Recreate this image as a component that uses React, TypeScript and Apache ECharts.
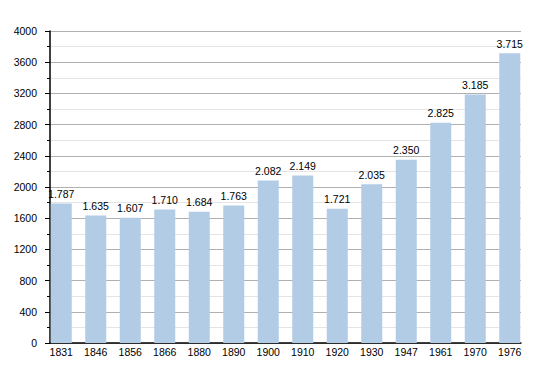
import React, { useEffect, useRef } from "react";
import * as echarts from "echarts";

const years = ["1831", "1846", "1856", "1866", "1880", "1890", "1900", "1910", "1920", "1930", "1947", "1961", "1970", "1976"];
const population = [1787, 1635, 1607, 1710, 1684, 1763, 2082, 2149, 1721, 2035, 2350, 2825, 3185, 3715];

const fmt = (v: number) => {
  const s = String(v);
  return s.length > 3 ? s.slice(0, s.length - 3) + "." + s.slice(s.length - 3) : s;
};

const FONT = "Liberation Sans, Arial, Helvetica, sans-serif";

export default function App() {
  const ref = useRef<HTMLDivElement>(null);
  useEffect(() => {
    const chart = echarts.init(ref.current!, null, { renderer: "svg" });
    chart.setOption({
      animation: false,
      backgroundColor: "#ffffff",
      grid: [
        { left: 50, right: 29, top: 31, bottom: 30 },
        { left: 44, right: 23, top: 31, bottom: 30 },
      ],
      xAxis: [
        {
          type: "value",
          gridIndex: 0,
          min: 0,
          max: 1,
          axisLine: { show: true, onZero: false, lineStyle: { color: "#000", width: 1.5 } },
          axisTick: { show: false },
          axisLabel: { show: false },
          splitLine: { show: false },
        },
        {
          type: "category",
          gridIndex: 1,
          data: years,
          axisLine: { show: false },
          axisTick: { show: false },
          axisLabel: { color: "#000", fontSize: 10.5, fontFamily: FONT, margin: 3 },
        },
      ],
      yAxis: [
        {
          type: "value",
          gridIndex: 0,
          min: 0,
          max: 4000,
          interval: 400,
          axisLine: { show: true, lineStyle: { color: "#000", width: 1.5 } },
          axisTick: { show: true, length: 5, lineStyle: { color: "#000" } },
          minorTick: { show: true, splitNumber: 2, length: 3, lineStyle: { color: "#000" } },
          splitLine: { lineStyle: { color: "#b0b0b0", width: 1 } },
          minorSplitLine: { show: true, lineStyle: { color: "#e4e4e4", width: 1 } },
          axisLabel: {
            color: "#000",
            fontSize: 10.5,
            fontFamily: FONT,
            margin: 13,
            formatter: (v: number) => String(v),
          },
        },
        {
          type: "value",
          gridIndex: 1,
          min: 0,
          max: 4000,
          show: false,
          splitLine: { show: false },
        },
      ],
      series: [
        {
          type: "bar",
          xAxisIndex: 1,
          yAxisIndex: 1,
          data: population,
          barWidth: 21,
          itemStyle: { color: "#b3cce6" },
          label: {
            show: true,
            position: "top",
            color: "#000",
            fontSize: 10.5,
            fontFamily: FONT,
            distance: 4,
            formatter: (p: any) => fmt(p.value),
          },
        },
      ],
    });
    return () => chart.dispose();
  }, []);
  return <div ref={ref} style={{ width: 550, height: 373, position: "absolute", left: 0, top: 0 }} />;
}
